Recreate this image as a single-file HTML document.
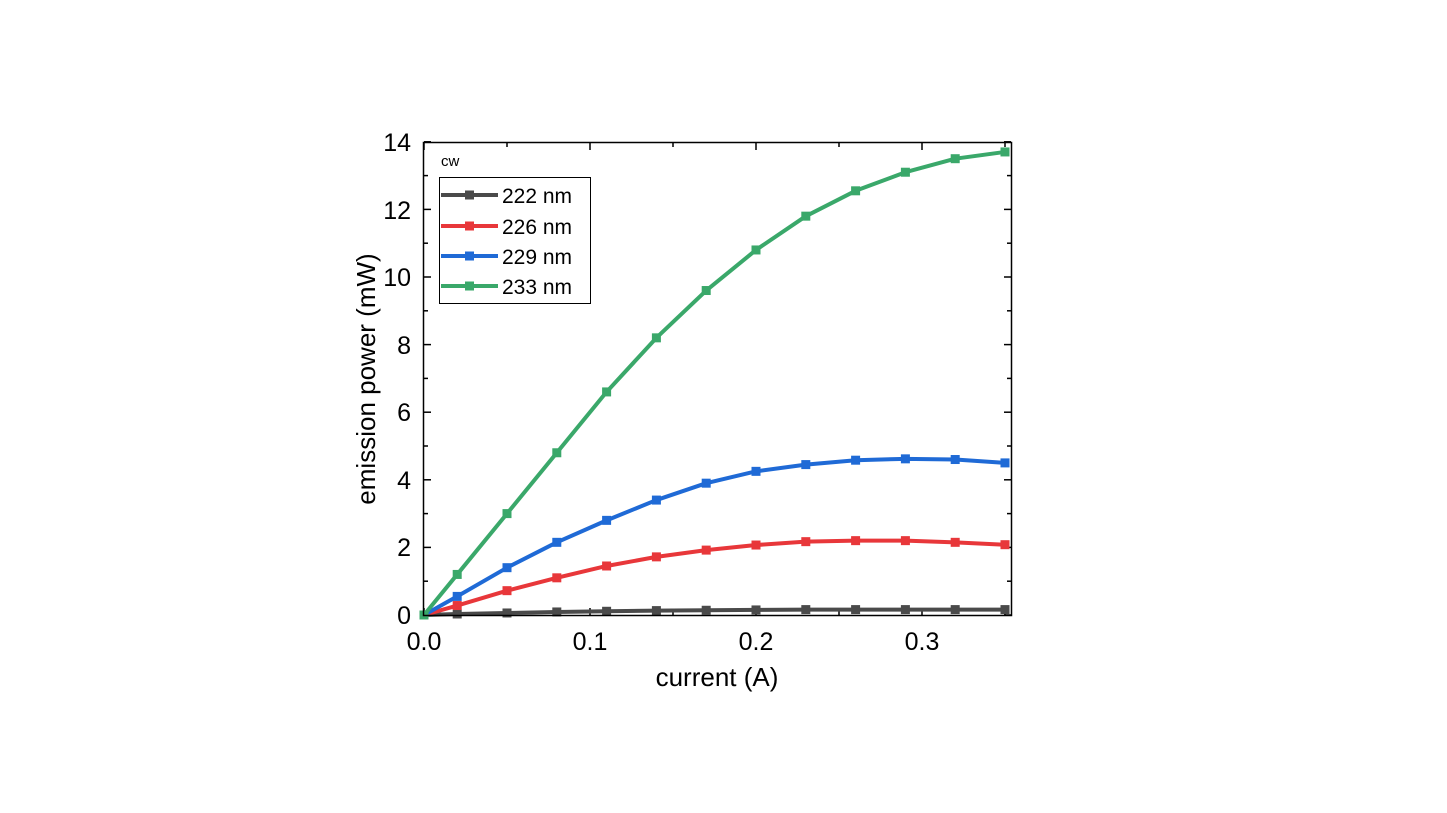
<!DOCTYPE html>
<html><head><meta charset="utf-8"><style>
html,body{margin:0;padding:0;background:#fff;}
svg{display:block;font-family:"Liberation Sans",Arial,sans-serif;}
</style></head><body>
<svg id="s" width="1447" height="813" xmlns="http://www.w3.org/2000/svg">
<rect x="0" y="0" width="1447" height="813" fill="#fff"/>
<g id="g"></g>
<rect x="423.5" y="142.5" width="588" height="473" fill="none" stroke="#000" stroke-width="1.5"/>
<g font-size="25" text-anchor="middle" fill="#000">
<text x="424" y="650">0.0</text><text x="590" y="650">0.1</text><text x="756" y="650">0.2</text><text x="922" y="650">0.3</text>
</g>
<g font-size="25" text-anchor="end" fill="#000">
<text x="411" y="624">0</text><text x="411" y="556">2</text><text x="411" y="489">4</text><text x="411" y="421">6</text><text x="411" y="354">8</text><text x="411" y="286">10</text><text x="411" y="219">12</text><text x="411" y="151">14</text>
</g>
<text x="717" y="686" font-size="26" text-anchor="middle">current (A)</text>
<text transform="translate(375,379) rotate(-90)" font-size="26" text-anchor="middle">emission power (mW)</text>
<text x="441" y="166" font-size="15">cw</text>
<rect x="439.5" y="177.5" width="151" height="126" fill="#fff" stroke="#000" stroke-width="1"/>
<g id="leg"></g>
</svg>
<script>
var X=function(v){return 424+v*1660;}, Y=function(v){return 615-v*33.8;};
var xs=[0,0.02,0.05,0.08,0.11,0.14,0.17,0.20,0.23,0.26,0.29,0.32,0.35];
var S=[
["#4a4a4a","222 nm",[0,0.03,0.06,0.09,0.11,0.13,0.14,0.15,0.16,0.16,0.16,0.16,0.16]],
["#e8373a","226 nm",[0,0.28,0.72,1.1,1.45,1.72,1.92,2.07,2.17,2.2,2.2,2.15,2.08]],
["#1f6ad6","229 nm",[0,0.55,1.4,2.15,2.8,3.4,3.9,4.25,4.45,4.58,4.62,4.6,4.5]],
["#3aa86a","233 nm",[0,1.2,3.0,4.8,6.6,8.2,9.6,10.8,11.8,12.55,13.1,13.5,13.7]]];
var h='';
for(var i=0;i<=14;i++){var y=Y(i),l=(i%2==0)?7:4;h+='<line x1="424" y1="'+y+'" x2="'+(424+l)+'" y2="'+y+'" stroke="#000" stroke-width="1.5"/><line x1="1011" y1="'+y+'" x2="'+(1011-l)+'" y2="'+y+'" stroke="#000" stroke-width="1.5"/>';}
for(var i=0;i<=7;i++){var x=X(i*0.05),l=(i%2==0)?7:4;h+='<line x1="'+x+'" y1="615" x2="'+x+'" y2="'+(615-l)+'" stroke="#000" stroke-width="1.5"/><line x1="'+x+'" y1="143" x2="'+x+'" y2="'+(143+l)+'" stroke="#000" stroke-width="1.5"/>';}
S.forEach(function(s){var p=xs.map(function(x,i){return X(x)+','+Y(s[2][i]);}).join(' ');
h+='<polyline points="'+p+'" fill="none" stroke="'+s[0]+'" stroke-width="4" stroke-linejoin="round"/>';
xs.forEach(function(x,i){h+='<rect x="'+(X(x)-4.5)+'" y="'+(Y(s[2][i])-4.5)+'" width="9" height="9" fill="'+s[0]+'"/>';});});
document.getElementById('g').innerHTML=h;
var lh='',ly=[195,226,256,286];
S.forEach(function(s,i){var y=ly[i];lh+='<line x1="441" y1="'+y+'" x2="498" y2="'+y+'" stroke="'+s[0]+'" stroke-width="4"/><rect x="465" y="'+(y-4.5)+'" width="9" height="9" fill="'+s[0]+'"/><text x="502" y="'+(y+8)+'" font-size="21">'+s[1]+'</text>';});
document.getElementById('leg').innerHTML=lh;
</script>
</body></html>
